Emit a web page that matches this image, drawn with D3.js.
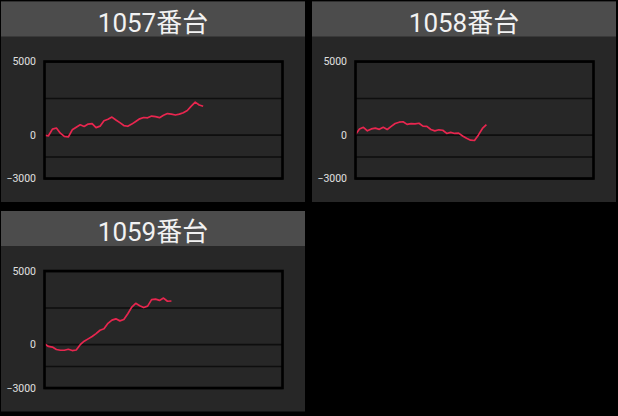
<!DOCTYPE html>
<html>
<head>
<meta charset="utf-8">
<script src="https://cdn.jsdelivr.net/npm/d3@7"></script>
<style>
  html, body { margin: 0; padding: 0; background: #000; }
  svg { display: block; }
</style>
</head>
<body>
<svg id="chart" width="618" height="416"></svg>
<script>
// Machine numbers (panel titles)
const machines = ['1057番台', '1058番台', '1059番台'];

// Balance samples, one value per step
const series1057 = [-30, -80, 380, 450, 100, -120, -160, 330, 500, 670, 560, 720, 750, 480, 580, 950,
  1050, 1200, 1000, 820, 620, 570, 720, 900, 1080, 1170, 1150, 1270, 1230, 1160, 1320, 1440,
  1400, 1340, 1400, 1500, 1650, 1950, 2220, 2030, 1940];
const series1058 = [0, 380, 500, 260, 390, 440, 360, 500, 350, 560, 760, 850, 880, 700, 750, 740,
  780, 580, 560, 350, 260, 330, 300, 80, 150, 80, 100, -90, -250, -380, -400, -20, 420, 680];
const series1059 = [20, -160, -200, -370, -420, -420, -350, -440, -400, -40, 200, 360, 520, 720, 950, 1050,
  1420, 1640, 1730, 1590, 1680, 2080, 2530, 2790, 2630, 2500, 2600, 3040, 3080, 2990, 3150, 2930, 2950];

// Axis settings
const yLabels = [5000, 0, -3000];
const gridValues = [5000, 2500, 0, -1500, -3000];
const yDomain = [-3000, 5000];
const xSteps = 60;

const panels = [
  { name: machines[0], values: series1057, x: 1, y: 1.5 },
  { name: machines[1], values: series1058, x: 312, y: 1.5 },
  { name: machines[2], values: series1059, x: 1, y: 211 }
];

const panelW = 304;
const panelH = 200.5;
const headerH = 35;
const plot = { left: 43.5, right: 281.5, top: 60, bottom: 177 };

const svg = d3.select('#chart');

svg.append('rect')
  .attr('width', 618)
  .attr('height', 416)
  .attr('fill', '#000');

panels.forEach(p => {
  const g = svg.append('g').attr('transform', `translate(${p.x},${p.y})`);

  // Panel body and header
  g.append('rect')
    .attr('width', panelW)
    .attr('height', panelH)
    .attr('fill', '#272727');

  g.append('rect')
    .attr('width', panelW)
    .attr('height', headerH)
    .attr('fill', '#4c4c4c');

  g.append('text')
    .attr('x', panelW / 2)
    .attr('y', 30)
    .attr('text-anchor', 'middle')
    .attr('font-family', 'Roboto, "Noto Sans CJK JP", sans-serif')
    .attr('font-size', 26)
    .attr('fill', '#f2f2f2')
    .text(p.name);

  // Scales
  const xScale = d3.scaleLinear()
    .domain([0, xSteps])
    .range([plot.left, plot.right]);

  const yScale = d3.scaleLinear()
    .domain(yDomain)
    .range([plot.bottom, plot.top]);

  // Grid lines
  const grid = g.append('g')
    .attr('transform', `translate(${plot.left},0)`)
    .call(d3.axisLeft(yScale)
      .tickValues(gridValues)
      .tickSize(-(plot.right - plot.left))
      .tickFormat(''));
  grid.select('.domain').remove();
  grid.selectAll('line')
    .attr('stroke', '#0e0e0e')
    .attr('stroke-width', 1.6);

  // Balance line
  const line = d3.line()
    .x((d, i) => xScale(i))
    .y(d => yScale(d));

  g.append('path')
    .datum(p.values)
    .attr('d', line)
    .attr('fill', 'none')
    .attr('stroke', '#e8264f')
    .attr('stroke-width', 1.7)
    .attr('stroke-linejoin', 'round');

  // Plot frame
  g.append('rect')
    .attr('x', plot.left)
    .attr('y', plot.top)
    .attr('width', plot.right - plot.left)
    .attr('height', plot.bottom - plot.top)
    .attr('fill', 'none')
    .attr('stroke', '#000')
    .attr('stroke-width', 2.6);

  // Y labels
  const yAxis = g.append('g')
    .attr('transform', `translate(${plot.left},0)`)
    .call(d3.axisLeft(yScale)
      .tickValues(yLabels)
      .tickSize(0)
      .tickPadding(8.5)
      .tickFormat(d3.format('d')));
  yAxis.select('.domain').remove();
  yAxis.selectAll('text')
    .attr('font-family', 'Roboto, sans-serif')
    .attr('font-size', 10.5)
    .attr('fill', '#e0e0e0');
});
</script>
</body>
</html>
